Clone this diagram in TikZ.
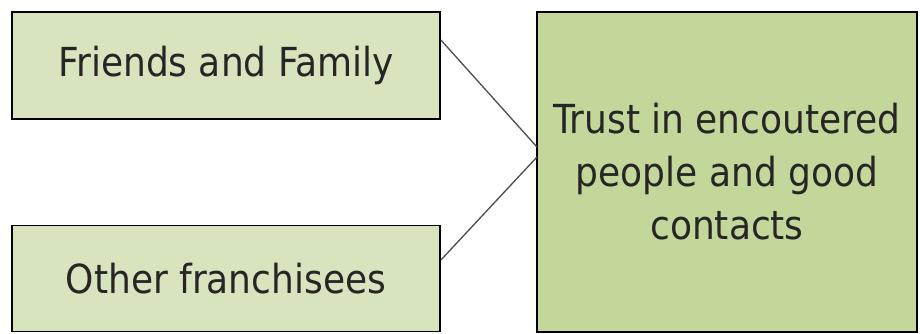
\documentclass[tikz,border=0pt]{standalone}
\usepackage{fontspec}
\setmainfont{DejaVu Sans Condensed}
\begin{document}
\begin{tikzpicture}[x=1pt,y=-1pt,
  box/.style={draw=black, line width=1.8pt, inner sep=0pt, align=center,
    font=\fontsize{40}{53}\selectfont, text=black!85},
  src/.style={box, fill=srcfill},
  dst/.style={box, fill=dstfill},
  link/.style={draw=black!70, line width=1.3pt}]
\definecolor{srcfill}{HTML}{D7E4BD}
\definecolor{dstfill}{HTML}{C4D79B}
\useasboundingbox (0,0) rectangle (920,334);
\node[src, minimum width=428pt, minimum height=107pt] (ff) at (226,65.5) {Friends and Family};
\node[src, minimum width=428pt, minimum height=106pt] (of) at (226,278.5) {Other franchisees};
\node[dst, minimum width=380pt, minimum height=320pt] (tr) at (727,172) {Trust in encoutered\\people and good\\contacts};
\coordinate (t1) at (537,147);
\coordinate (t2) at (537,157);
\draw[link] (ff.east |- 0,40) -- (t1);
\draw[link] (of.east |- 0,260) -- (t2);
\end{tikzpicture}
\end{document}
